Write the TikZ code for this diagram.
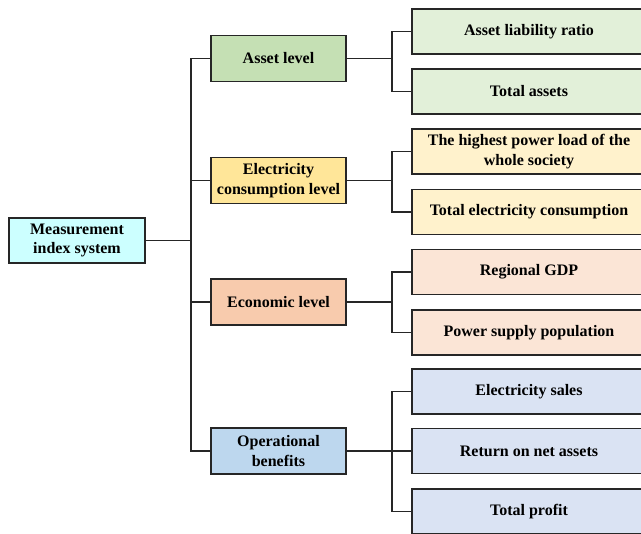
\documentclass[tikz,border=0pt]{standalone}
\usepackage{fontspec}
\setmainfont{Liberation Serif}
\definecolor{rootc}{HTML}{CCFFFF}
\definecolor{gA}{HTML}{C5E0B4}\definecolor{gB}{HTML}{E2F0D9}
\definecolor{yA}{HTML}{FFE699}\definecolor{yB}{HTML}{FFF2CC}
\definecolor{oA}{HTML}{F8CBAD}\definecolor{oB}{HTML}{FBE5D6}
\definecolor{bA}{HTML}{BDD7EE}\definecolor{bB}{HTML}{DAE3F3}
\begin{document}
\begin{tikzpicture}[x=1pt,y=-1pt,
  box/.style={draw=black!85,line width=1.4pt,align=center,inner sep=0pt,
    font=\bfseries\fontsize{16}{19.5}\selectfont},
  rootbox/.style={box,fill=rootc,minimum width=136pt,minimum height=45pt},
  lvl/.style={box,minimum width=135pt,minimum height=46pt},
  leaf/.style={box,minimum width=234pt,minimum height=45pt},
  conn/.style={line width=1.4pt,draw=black!85}]
\useasboundingbox (0,0) rectangle (641,534);
\clip (0,0) rectangle (641,534);
\node[rootbox] (root) at (77,240.5) {Measurement\\index system};
\node[lvl,fill=gA] (l1) at (278.5,58.5) {Asset level};
\node[lvl,fill=yA] (l2) at (278.5,180.5) {Electricity\\consumption level};
\node[lvl,fill=oA] (l3) at (278.5,302) {Economic level};
\node[lvl,fill=bA] (l4) at (278.5,451) {Operational\\benefits};
\node[leaf,fill=gB] (a1) at (529,31.5) {Asset liability ratio};
\node[leaf,fill=gB] (a2) at (529,91.5) {Total assets};
\node[leaf,fill=yB] (b1) at (529,151.5) {The highest power load of the\\whole society};
\node[leaf,fill=yB] (b2) at (529,212) {Total electricity consumption};
\node[leaf,fill=oB] (c1) at (529,272) {Regional GDP};
\node[leaf,fill=oB] (c2) at (529,332.5) {Power supply population};
\node[leaf,fill=bB] (d1) at (529,391.5) {Electricity sales};
\node[leaf,fill=bB] (d2) at (529,451) {Return on net assets};
\node[leaf,fill=bB] (d3) at (529,511.5) {Total profit};
% trunk
\coordinate (t0) at (191,0);
\draw[conn] (root.east) -- (root.east -| t0);
\draw[conn] (l1.west) -| (t0 |- l4.west) -- (l4.west);
\draw[conn] (l2.west) -- (l2.west -| t0);
\draw[conn] (l3.west) -- (l3.west -| t0);
% branches
\coordinate (s0) at (392,0);
\draw[conn] (l1.east) -- (l1.east -| s0);
\draw[conn] (a1.west) -| (s0 |- a2.west) -- (a2.west);
\draw[conn] (l2.east) -- (l2.east -| s0);
\draw[conn] (b1.west) -| (s0 |- b2.west) -- (b2.west);
\draw[conn] (l3.east) -- (l3.east -| s0);
\draw[conn] (c1.west) -| (s0 |- c2.west) -- (c2.west);
\draw[conn] (l4.east) -- (d2.west);
\draw[conn] (d1.west) -| (s0 |- d3.west) -- (d3.west);
\end{tikzpicture}
\end{document}
